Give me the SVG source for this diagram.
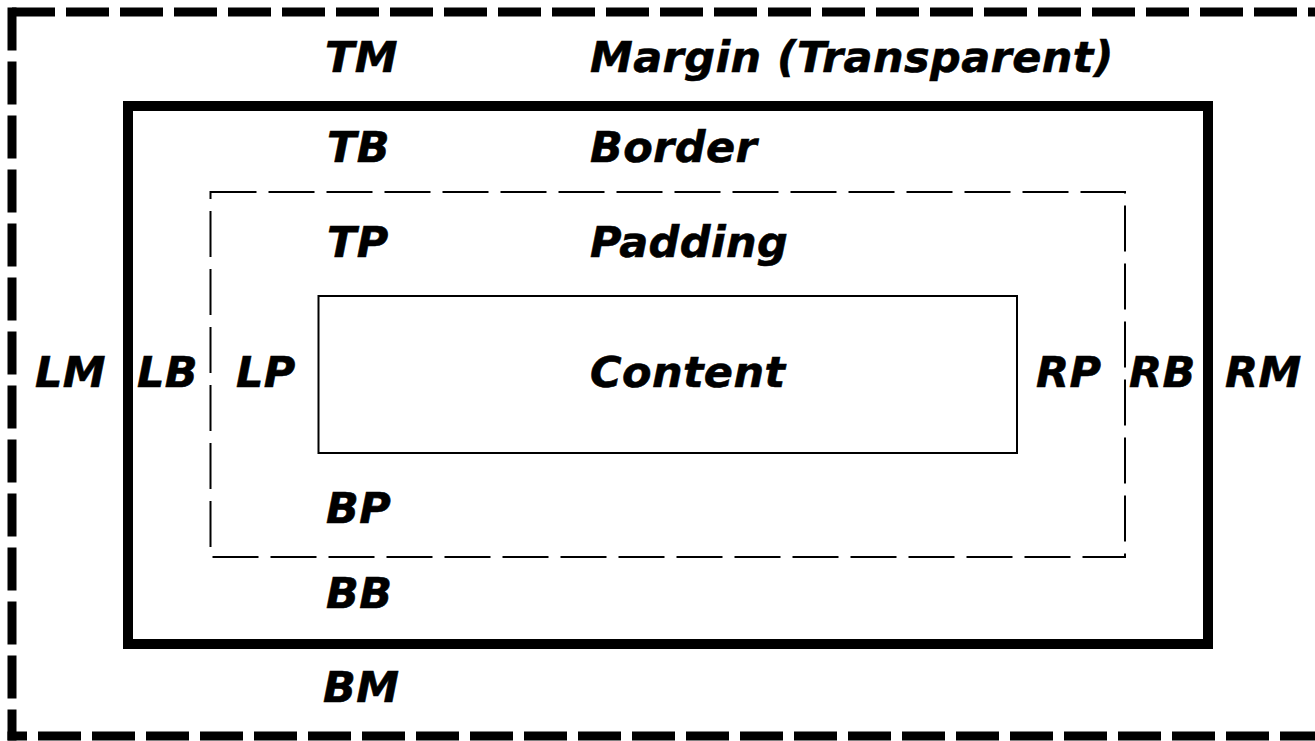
<svg xmlns="http://www.w3.org/2000/svg" width="1315" height="741" viewBox="0 0 1315 741">
<style>
.lbl{font-family:"DejaVu Sans","Verdana",sans-serif;font-weight:bold;font-style:italic;font-size:43px;fill:#000;stroke:#000;stroke-width:0.6;letter-spacing:0.4px}
.margin{fill:none;stroke:#000;stroke-width:9;stroke-dasharray:43 11}
</style>
<rect width="1315" height="741" fill="#fff"/>
<g id="margin">
<line class="margin" x1="12" y1="12" x2="1322" y2="12"/>
<line class="margin" x1="12" y1="7.5" x2="12" y2="740.5"/>
<line class="margin" x1="7.5" y1="736" x2="1322" y2="736" stroke-dashoffset="23.5"/>
<text class="lbl" x="325" y="72">TM</text>
<text class="lbl" x="590" y="72">Margin (Transparent)</text>
<text class="lbl" x="35" y="387">LM</text>
<text class="lbl" x="1225" y="387">RM</text>
<text class="lbl" x="323" y="702">BM</text>
</g>
<g id="border">
<rect x="128" y="106" width="1080" height="538" fill="none" stroke="#000" stroke-width="10"/>
<text class="lbl" x="327" y="162">TB</text>
<text class="lbl" x="590" y="162">Border</text>
<text class="lbl" x="137" y="387">LB</text>
<text class="lbl" x="1129" y="387">RB</text>
<text class="lbl" x="326" y="608">BB</text>
</g>
<g id="padding">
<rect x="210.5" y="192" width="914.5" height="365" fill="none" stroke="#000" stroke-width="2" stroke-dasharray="46 12"/>
<text class="lbl" x="327" y="257">TP</text>
<text class="lbl" x="590" y="257">Padding</text>
<text class="lbl" x="236" y="387">LP</text>
<text class="lbl" x="1036" y="387">RP</text>
<text class="lbl" x="326" y="523">BP</text>
</g>
<g id="content">
<rect x="318.5" y="296" width="698.5" height="157" fill="none" stroke="#000" stroke-width="2"/>
<text class="lbl" x="590" y="387">Content</text>
</g>
<g id="connectors"/>
</svg>
